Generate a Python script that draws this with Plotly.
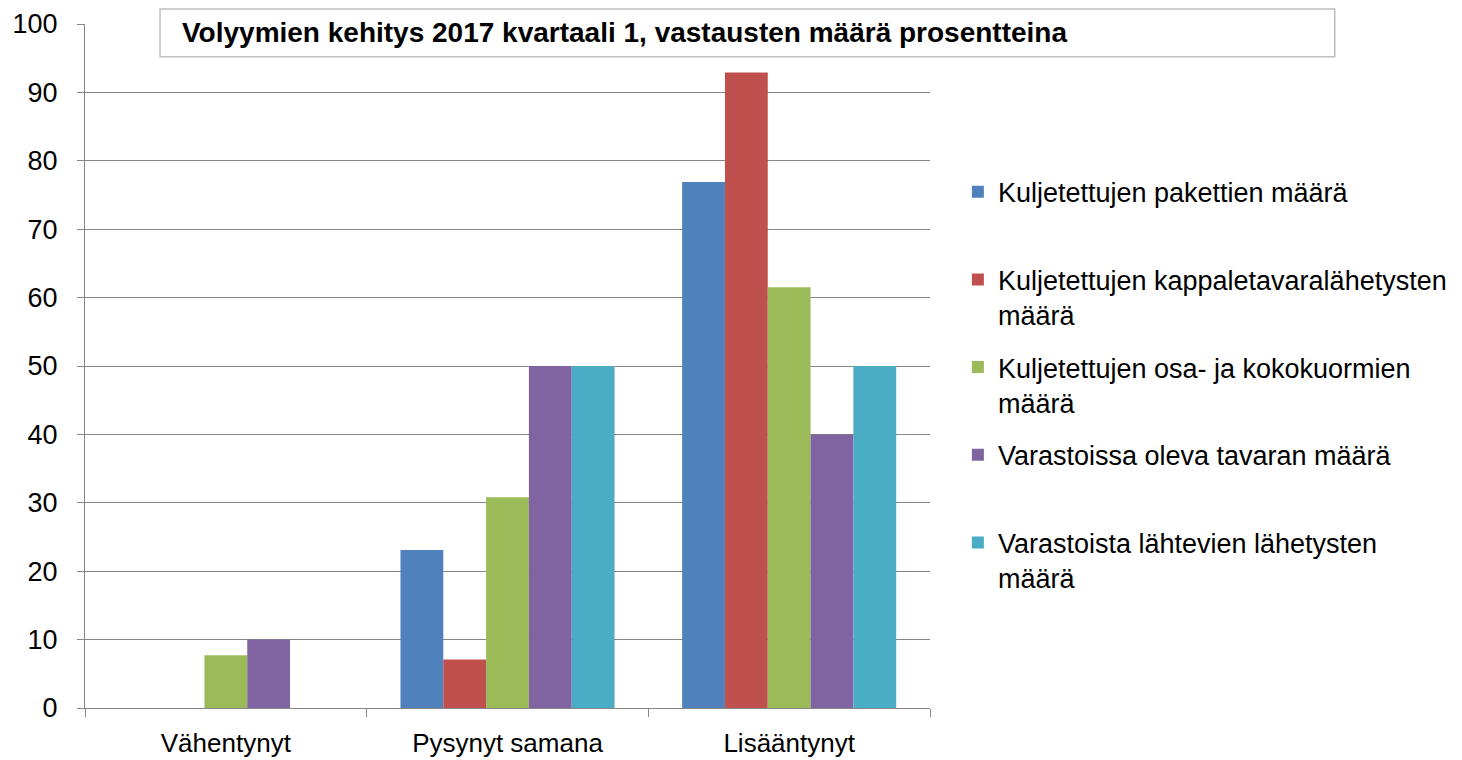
import plotly.graph_objects as go

categories = ["Vähentynyt", "Pysynyt samana", "Lisääntynyt"]
series_names = [
    "Kuljetettujen pakettien määrä",
    "Kuljetettujen kappaletavaralähetysten<br>määrä",
    "Kuljetettujen osa- ja kokokuormien<br>määrä",
    "Varastoissa oleva tavaran määrä",
    "Varastoista lähtevien lähetysten<br>määrä",
]
paketit = [0, 23.1, 76.9]
kappaletavara = [0, 7.1, 92.9]
kuormat = [7.7, 30.8, 61.5]
varastoissa = [10, 50, 40]
lahtevat = [0, 50, 50]
colors = ["#4F81BD", "#C0504D", "#9BBB59", "#8064A2", "#4BACC6"]
title_text = "Volyymien kehitys 2017 kvartaali 1, vastausten määrä prosentteina"

values = [paketit, kappaletavara, kuormat, varastoissa, lahtevat]
font = "Liberation Sans"

fig = go.Figure()
for i, (name, vals, col) in enumerate(zip(series_names, values, colors)):
    label = name if "<br>" in name else name + "<br> "
    fig.add_trace(go.Bar(x=categories, y=vals, name=label, marker_color=col,
                         marker_line_width=0, legendgroup=str(i)))

fig.update_layout(
    width=1462, height=760,
    margin=dict(l=77, r=540, t=16, b=60),
    paper_bgcolor="white", plot_bgcolor="white",
    barmode="group", bargap=0.24, bargroupgap=0,
    font=dict(family=font, color="black", size=26),
    showlegend=True,
    legend=dict(x=1.033, y=0.79, xanchor="left", yanchor="top",
                valign="top", tracegroupgap=14.5,
                font=dict(family=font, size=27, color="black"),
                itemwidth=30, bgcolor="rgba(0,0,0,0)"),
    xaxis=dict(showline=True, linecolor="#868686", linewidth=1, automargin=False,
               ticks="outside", tickson="boundaries", ticklen=8, tickcolor="#868686",
               ticklabelstandoff=12,
               tickfont=dict(size=26, family=font), showgrid=False),
    yaxis=dict(range=[0, 100], dtick=10, showline=True, linecolor="#868686", linewidth=1,
               automargin=False, ticks="outside", ticklen=7, tickcolor="#868686",
               ticklabelstandoff=14,
               showgrid=True, gridcolor="#868686", gridwidth=1,
               tickfont=dict(size=27, family=font), zeroline=False),
    shapes=[dict(type="rect", xref="paper", yref="paper", x0=0.0888, x1=1.479,
                 y0=0.952, y1=1.022, line=dict(color="#BFBFBF", width=1.5),
                 fillcolor="white", layer="above")],
    annotations=[dict(text="<b>" + title_text + "</b>", xref="paper", yref="paper",
                      x=0.112, y=0.988, xanchor="left", yanchor="middle", showarrow=False,
                      font=dict(family=font, size=28, color="black"))],
)

fig.write_html("out.html")
